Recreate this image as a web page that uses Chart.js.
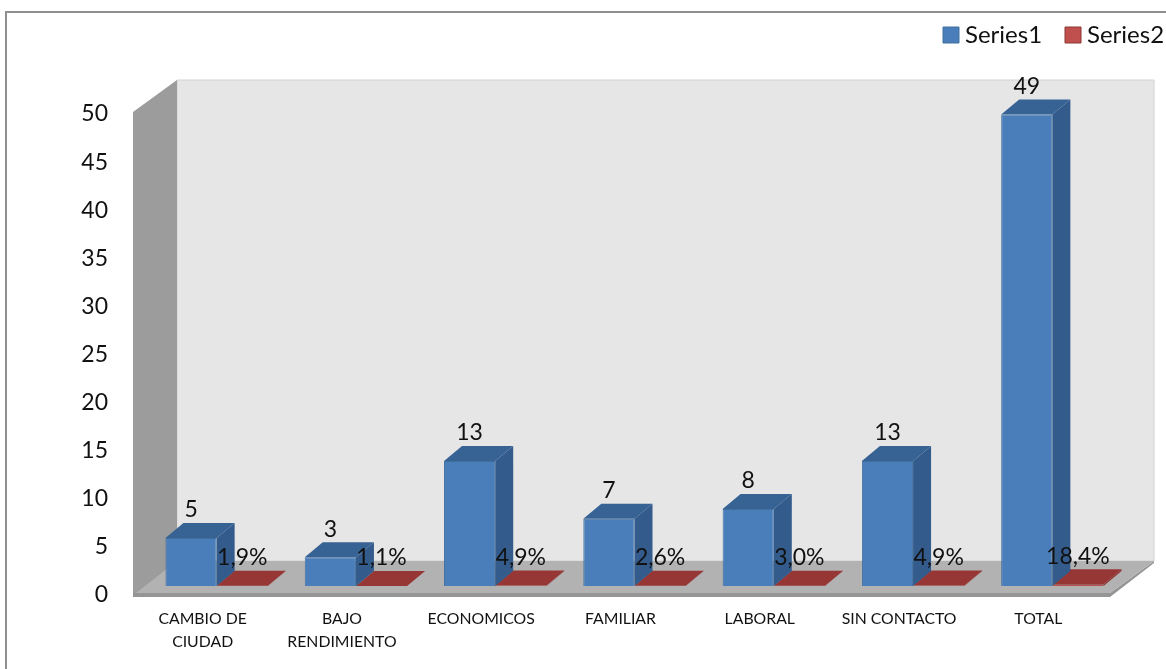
<!DOCTYPE html>
<html>
<head>
<meta charset="utf-8">
<script src="https://cdn.jsdelivr.net/npm/chart.js@4/dist/chart.umd.min.js"></script>
<style>
  html, body { margin: 0; background: #fff; }
  #frame { position: absolute; left: 5px; top: 11px; width: 1161px; height: 658px; border-left: 2px solid #8f8f8f; border-top: 2px solid #8f8f8f; box-sizing: border-box; }
  #myChart { position: absolute; left: 0; top: 0; }
</style>
</head>
<body>
<div id="frame"></div>
<canvas id="myChart" width="1166" height="669"></canvas>
<script>
const categories = [['CAMBIO DE', 'CIUDAD'], ['BAJO', 'RENDIMIENTO'], 'ECONOMICOS', 'FAMILIAR', 'LABORAL', 'SIN CONTACTO', 'TOTAL'];
const series1 = [5, 3, 13, 7, 8, 13, 49];
const series2 = [0.019, 0.011, 0.049, 0.026, 0.03, 0.049, 0.184];
const yTicks = [0, 5, 10, 15, 20, 25, 30, 35, 40, 45, 50];

const FONT = 'Lato, "Open Sans", sans-serif';
const WALL_DX = 44, WALL_DY = -32;   // depth of the box
const BAR_DX = 18, BAR_DY = -15;     // depth of a bar
const SHIFT_X = 14, SHIFT_Y = -9;    // bars stand inside the floor
const faces = [
  { side: '#335b8c', top: '#376294' },
  { side: '#8f3533', top: '#963735' }
];
const legendPos = [{ box: 943, text: 965 }, { box: 1065, text: 1087 }];

const poly = (ctx, pts, fill, stroke) => {
  ctx.beginPath();
  pts.forEach((p, i) => i ? ctx.lineTo(p[0], p[1]) : ctx.moveTo(p[0], p[1]));
  ctx.closePath();
  ctx.fillStyle = fill;
  ctx.fill();
  if (stroke) {
    ctx.strokeStyle = stroke;
    ctx.lineWidth = 1;
    ctx.stroke();
  }
};

const box3d = {
  id: 'box3d',
  beforeDatasetsDraw(chart) {
    const { ctx, chartArea: a, scales: { y } } = chart;
    const top = y.getPixelForValue(50) - 2, bot = y.getPixelForValue(0) - 2;
    const r = a.right + 2;
    // back wall
    poly(ctx, [[a.left + WALL_DX, top + WALL_DY], [r + WALL_DX, top + WALL_DY], [r + WALL_DX, bot + WALL_DY], [a.left + WALL_DX, bot + WALL_DY]], '#e6e6e6', '#d2d2d2');
    // left wall
    poly(ctx, [[a.left, top], [a.left + WALL_DX, top + WALL_DY], [a.left + WALL_DX, bot + WALL_DY], [a.left, bot + 4]], '#9c9c9c');
    // floor edge, then floor
    poly(ctx, [[a.left, bot], [r, bot], [r + WALL_DX, bot + WALL_DY], [r + WALL_DX, bot + WALL_DY + 2], [r, bot + 4], [a.left, bot + 4]], '#959595');
    poly(ctx, [[a.left + 3, bot], [a.left + WALL_DX, bot + WALL_DY], [r + WALL_DX, bot + WALL_DY], [r, bot]], '#b2b2b2');
  },
  beforeDatasetDraw(chart, args) {
    const { ctx } = chart;
    const f = faces[args.index];
    ctx.save();
    ctx.translate(SHIFT_X, SHIFT_Y);
    args.meta.data.forEach((bar) => {
      const l = bar.x - bar.width / 2, r = bar.x + bar.width / 2;
      poly(ctx, [[r, bar.y], [r + BAR_DX, bar.y + BAR_DY], [r + BAR_DX, bar.base + BAR_DY], [r, bar.base]], f.side);
      poly(ctx, [[l, bar.y], [l + BAR_DX, bar.y + BAR_DY], [r + BAR_DX, bar.y + BAR_DY], [r, bar.y]], f.top);
    });
  },
  afterDatasetDraw(chart) {
    chart.ctx.restore();
  },
  afterDatasetsDraw(chart) {
    const { ctx } = chart;
    ctx.save();
    ctx.font = '23px ' + FONT;
    ctx.fillStyle = '#111';
    ctx.textAlign = 'center';
    ctx.textBaseline = 'middle';
    chart.data.datasets.forEach((ds, i) => {
      chart.getDatasetMeta(i).data.forEach((bar, j) => {
        const v = ds.data[j];
        const txt = i === 0 ? String(v) : (v * 100).toFixed(1).replace('.', ',') + '%';
        ctx.fillText(txt, bar.x + SHIFT_X, bar.y + SHIFT_Y - 28);
      });
    });
    // legend, swatch sits closer to the text than the built in one allows
    ctx.font = '24px ' + FONT;
    ctx.textAlign = 'left';
    chart.data.datasets.forEach((ds, i) => {
      const p = legendPos[i];
      poly(ctx, [[p.box, 27], [p.box + 16, 27], [p.box + 16, 43], [p.box, 43]], ds.backgroundColor, ds.borderColor);
      ctx.fillStyle = '#111';
      ctx.fillText(ds.label, p.text, 35);
    });
    ctx.restore();
  }
};

new Chart(document.getElementById('myChart'), {
  type: 'bar',
  data: {
    labels: categories,
    datasets: [
      { label: 'Series1', data: series1, backgroundColor: '#4a7ebb', borderColor: '#41709f', borderWidth: 1, clip: false },
      { label: 'Series2', data: series2, backgroundColor: '#c0504d', borderColor: '#8c3836', borderWidth: 1, clip: false }
    ]
  },
  plugins: [box3d],
  options: {
    responsive: false,
    animation: false,
    layout: { padding: { left: 0, right: 58, top: 114, bottom: 0 } },
    datasets: { bar: { categoryPercentage: 0.735, barPercentage: 1 } },
    scales: {
      x: {
        grid: { display: false },
        border: { display: false },
        ticks: { color: '#111', font: { family: FONT, size: 15.8, lineHeight: 1.46 }, padding: 4, maxRotation: 0, autoSkip: false },
        afterFit(scale) { scale.height = 74; }
      },
      y: {
        min: 0,
        max: 50,
        grid: { display: false },
        border: { display: false },
        afterBuildTicks(scale) { scale.ticks = yTicks.map((v) => ({ value: v })); },
        ticks: { color: '#111', font: { family: FONT, size: 23 }, padding: 17 },
        afterFit(scale) { scale.width = 133; }
      }
    },
    plugins: {
      tooltip: { enabled: false },
      legend: { display: false }
    }
  }
});
</script>
</body>
</html>
